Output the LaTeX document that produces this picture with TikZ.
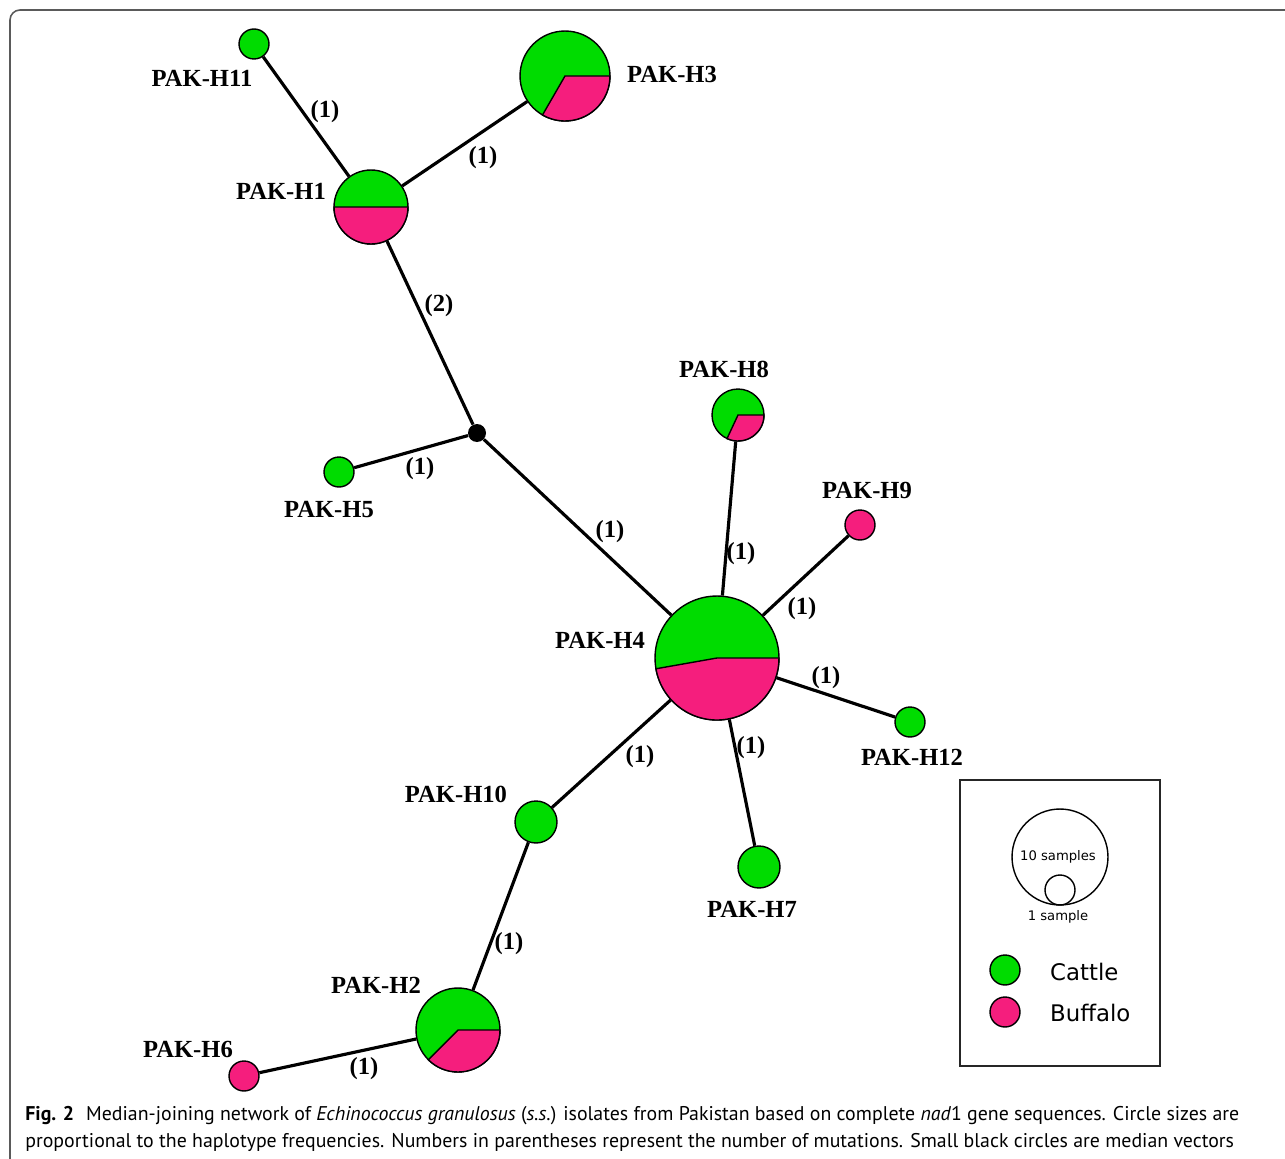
\documentclass[tikz,border=0pt]{standalone}
\usepackage{fontspec}
\setmainfont{Liberation Serif}
\newfontfamily\legendfont{DejaVu Sans}
\newfontfamily\capfont{PT Sans}
\usetikzlibrary{positioning}
\definecolor{cattlegreen}{RGB}{0,220,0}
\definecolor{buffalopink}{RGB}{245,30,125}
\definecolor{framegray}{RGB}{90,90,90}

\begin{document}
\begin{tikzpicture}[x=0.02cm, y=0.02cm,
    hap/.style={circle, draw, line width=0.8pt, inner sep=0pt, minimum size=#1*0.04cm},
    cattle/.style={hap=#1, fill=cattlegreen},
    buffalo/.style={hap=#1, fill=buffalopink},
    wedge/.style={draw, line width=0.8pt, fill=buffalopink},
    link/.style={line width=1.8pt},
    hlabel/.style={font=\fontsize{14}{16}\selectfont\bfseries},
    mut/.style={font=\fontsize{14}{16}\selectfont\bfseries},
    legtext/.style={font=\legendfont\fontsize{13}{15}\selectfont, anchor=west},
    small/.style={font=\legendfont\fontsize{7.5}{9}\selectfont},
    captext/.style={anchor=base west, inner sep=0pt, font=\capfont\fontsize{11.3}{14}\selectfont}
]
\useasboundingbox (0,0) rectangle (1285,-1159);
\draw[framegray, line width=0.9pt, rounded corners=5.7pt] (1300,-10) -- (10,-10) -- (10,-1175);

% haplotypes
\node[cattle=15] (h11) at (254,-44) {};
\node[cattle=45] (h3) at (565,-76) {};
\draw[wedge] (h3.center) -- ++(-120:45) arc[start angle=-120, end angle=0, radius=45] -- cycle;
\node[cattle=37] (h1) at (371,-207) {};
\draw[wedge] (h1.center) -- ++(180:37) arc[start angle=180, end angle=360, radius=37] -- cycle;
\node[circle, fill=black, inner sep=0pt, minimum size=0.36cm] (mv) at (477,-433) {};
\node[cattle=15] (h5) at (339,-472) {};
\node[cattle=26] (h8) at (738,-415) {};
\draw[wedge] (h8.center) -- ++(-115:26) arc[start angle=-115, end angle=0, radius=26] -- cycle;
\node[buffalo=15] (h9) at (860,-525) {};
\node[cattle=62] (h4) at (717,-658) {};
\draw[wedge] (h4.center) -- ++(190:62) arc[start angle=190, end angle=360, radius=62] -- cycle;
\node[cattle=15] (h12) at (910,-722) {};
\node[cattle=21] (h7) at (759,-867) {};
\node[cattle=21] (h10) at (536,-822) {};
\node[cattle=42] (h2) at (458,-1030) {};
\draw[wedge] (h2.center) -- ++(-135:42) arc[start angle=-135, end angle=0, radius=42] -- cycle;
\node[buffalo=15] (h6) at (244,-1076) {};

% links
\draw[link] (h11) -- (h1);
\draw[link] (h3) -- (h1);
\draw[link] (h1) -- (mv);
\draw[link] (h5) -- (mv);
\draw[link] (mv) -- (h4);
\draw[link] (h8) -- (h4);
\draw[link] (h9) -- (h4);
\draw[link] (h12) -- (h4);
\draw[link] (h7) -- (h4);
\draw[link] (h10) -- (h4);
\draw[link] (h10) -- (h2);
\draw[link] (h6) -- (h2);

% names
\node[hlabel] (l11) at (202,-78) {PAK-H11};
\node[hlabel] (l3) at (672,-74) {PAK-H3};
\node[hlabel] (l1) at (281,-191) {PAK-H1};
\node[hlabel] (l5) at (329,-509) {PAK-H5};
\node[hlabel] (l8) at (724,-369) {PAK-H8};
\node[hlabel] (l9) at (867,-490) {PAK-H9};
\node[hlabel] (l4) at (600,-640) {PAK-H4};
\node[hlabel] (l12) at (912,-757) {PAK-H12};
\node[hlabel] (l7) at (752,-909) {PAK-H7};
\node[hlabel] (l10) at (456,-794) {PAK-H10};
\node[hlabel] (l2) at (376,-985) {PAK-H2};
\node[hlabel] (l6) at (188,-1049) {PAK-H6};

% mutations
\node[mut] (m1) at (325,-112) {(1)};
\node[mut] (m2) at (483,-158) {(1)};
\node[mut] (m3) at (439,-306) {(2)};
\node[mut] (m4) at (420,-469) {(1)};
\node[mut] (m5) at (610,-532) {(1)};
\node[mut] (m6) at (741,-554) {(1)};
\node[mut] (m7) at (802,-609) {(1)};
\node[mut] (m8) at (826,-678) {(1)};
\node[mut] (m9) at (751,-748) {(1)};
\node[mut] (m10) at (640,-757) {(1)};
\node[mut] (m11) at (509,-944) {(1)};
\node[mut] (m12) at (364,-1069) {(1)};

% legend
\draw[line width=0.9pt, draw=black!85] (960,-780) rectangle (1160,-1066);
\node[hap=48] (ten) at (1060,-857) {};
\node[hap=15] (one) at (1060,-890) {};
\node[small] (tentext) at (1058,-857) {10 samples};
\node[small] (onetext) at (1058,-917) {1 sample};
\node[cattle=15] (keyc) at (1005,-970) {};
\node[legtext] (keyctext) at (1044,-972) {Cattle};
\node[buffalo=15] (keyb) at (1005,-1012) {};
\node[legtext] (keybtext) at (1044,-1013) {Buffalo};

% caption
\node[captext] (cap1) at (25,-1120)
  {\textbf{Fig. 2}\hspace{0.6em}Median-joining network of \textit{Echinococcus granulosus} (\textit{s.s.}) isolates from Pakistan based on complete \textit{nad}1 gene sequences. Circle sizes are};
\node[captext] (cap2) at (25,-1147)
  {proportional to the haplotype frequencies. Numbers in parentheses represent the number of mutations. Small black circles are median vectors};
\end{tikzpicture}
\end{document}
